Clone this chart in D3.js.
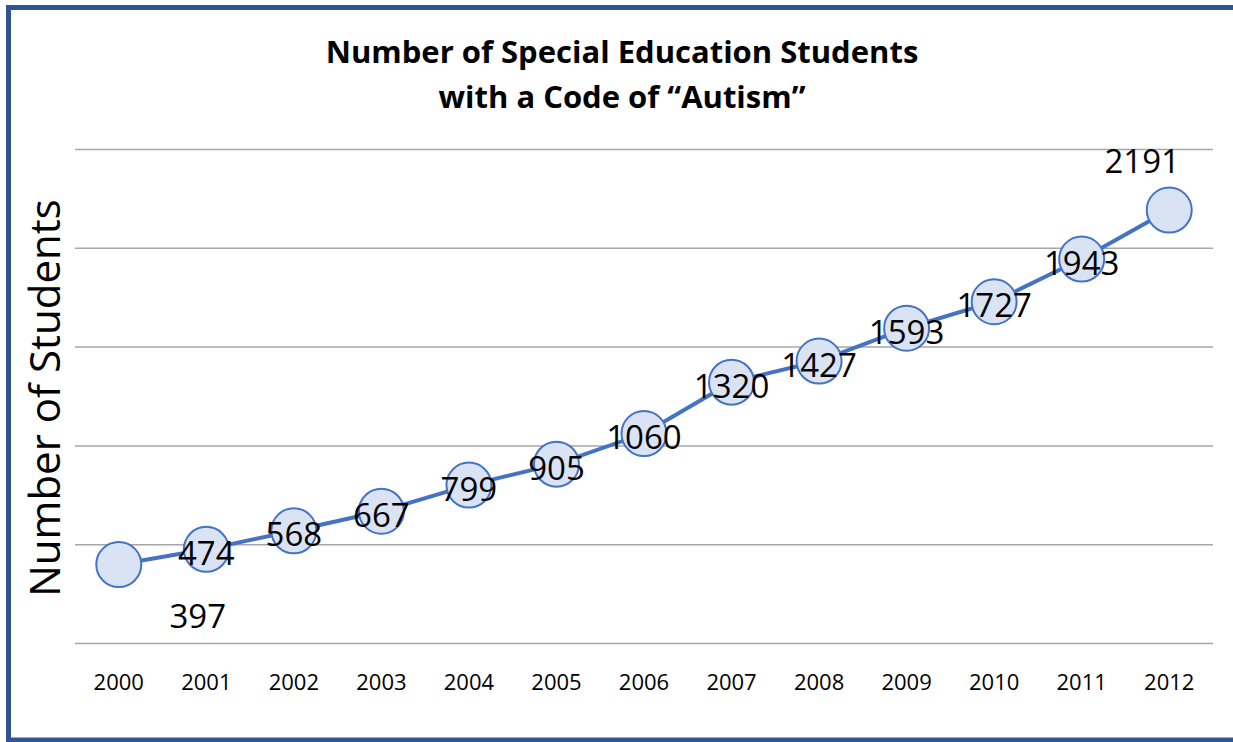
<!DOCTYPE html>
<html>
<head>
<meta charset="utf-8">
<script src="https://cdn.jsdelivr.net/npm/d3@7"></script>
<style>
  body { margin: 0; background: #fff; overflow: hidden; }
  text { font-family: "Open Sans", "Liberation Sans", sans-serif; }
</style>
</head>
<body>
<div id="chart-area"></div>
<script>
// data
let years = ["2000", "2001", "2002", "2003", "2004", "2005", "2006",
             "2007", "2008", "2009", "2010", "2011", "2012"];
let students = [397, 474, 568, 667, 799, 905, 1060, 1320, 1427, 1593, 1727, 1943, 2191];
let gridTicks = [0, 500, 1000, 1500, 2000, 2500];

let W = 1233, H = 742;
let plot = {left: 75, right: 1213, top: 149, bottom: 643};

let svg = d3.select("#chart-area")
    .append("svg")
        .attr("width", W)
        .attr("height", H)
        .style("display", "block");

// frame: top, left and bottom only - the right side is cut off in the reference
svg.append("path")
    .attr("d", "M" + (W + 50) + ",7.5H8.5V740H" + (W + 50))
    .attr("fill", "none")
    .attr("stroke", "#2F5597")
    .attr("stroke-width", 5);

let x = d3.scaleBand()
    .domain(years)
    .range([plot.left, plot.right]);

let y = d3.scaleLinear()
    .domain([0, 2500])
    .range([plot.bottom, plot.top]);

// horizontal gridlines
svg.append("g")
    .attr("transform", "translate(" + plot.left + ",0)")
    .call(d3.axisLeft(y).tickValues(gridTicks).tickSize(-(plot.right - plot.left)).tickFormat(""))
    .call(g => g.select(".domain").remove())
    .call(g => g.selectAll(".tick line").attr("stroke", "#A6A6A6").attr("stroke-width", 1.5));

// x axis labels
svg.append("g")
    .attr("transform", "translate(0," + plot.bottom + ")")
    .call(d3.axisBottom(x).tickSize(0).tickPadding(31))
    .call(g => g.select(".domain").remove())
    .call(g => g.selectAll("text")
        .attr("font-size", "22px")
        .attr("fill", "#000")
        .attr("font-family", "'Open Sans', sans-serif"));

let cx = d => x(d.year) + x.bandwidth() / 2;
let points = years.map((yr, i) => ({year: yr, value: students[i]}));

// line
svg.append("path")
    .datum(points)
    .attr("fill", "none")
    .attr("stroke", "#4472C4")
    .attr("stroke-width", 4)
    .attr("d", d3.line().x(cx).y(d => y(d.value)));

// markers
svg.selectAll("circle.pt")
    .data(points)
    .enter()
    .append("circle")
        .attr("class", "pt")
        .attr("cx", cx)
        .attr("cy", d => y(d.value))
        .attr("r", 22.5)
        .attr("fill", "#DAE3F3")
        .attr("stroke", "#4472C4")
        .attr("stroke-width", 2);

// data labels - centred on the point, except first (below right) and last (above left)
let shift = (d, i) => {
    if (i === 0) return [79, 52];
    if (i === points.length - 1) return [-27, -49];
    return [0, 4];
};
svg.selectAll("text.lbl")
    .data(points)
    .enter()
    .append("text")
        .attr("class", "lbl")
        .attr("x", (d, i) => cx(d) + shift(d, i)[0])
        .attr("y", (d, i) => y(d.value) + shift(d, i)[1])
        .attr("dy", "0.35em")
        .attr("text-anchor", "middle")
        .attr("font-size", "33px")
        .attr("fill", "#000")
        .text(d => d.value);

// title
let title = svg.append("text")
    .attr("text-anchor", "middle")
    .attr("font-size", "31px")
    .attr("font-weight", "bold")
    .attr("fill", "#000");
title.append("tspan").attr("x", 622).attr("y", 63).text("Number of Special Education Students");
title.append("tspan").attr("x", 622).attr("y", 108).text("with a Code of \u201CAutism\u201D");

// y axis title
svg.append("text")
    .attr("transform", "translate(60,398) rotate(-90)")
    .attr("text-anchor", "middle")
    .attr("font-size", "42px")
    .attr("fill", "#000")
    .text("Number of Students");
</script>
</body>
</html>
